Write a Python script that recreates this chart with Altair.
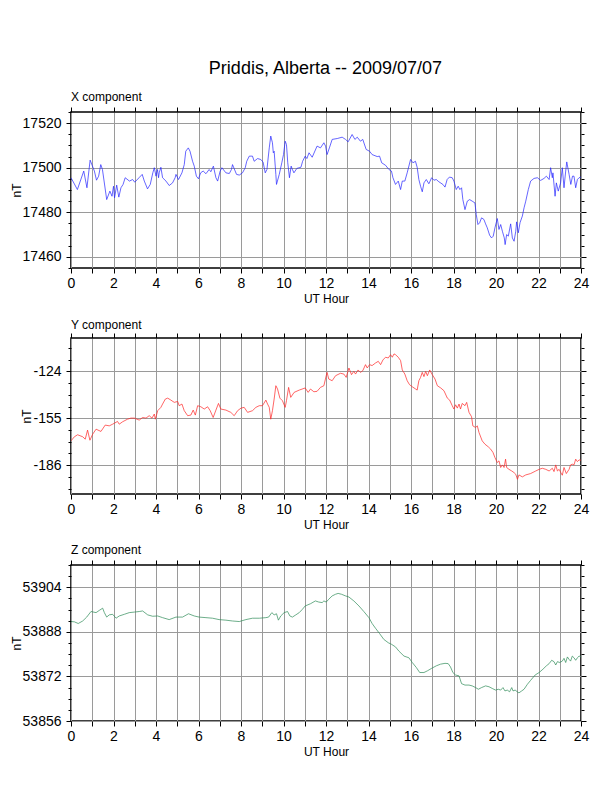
import altair as alt
import pandas as pd

FONT = "Liberation Sans"

# ---------------- data ----------------
X_HOURS = [0.00, 0.30, 0.60, 0.75, 0.90, 1.10, 1.20, 1.30, 1.40, 1.48, 1.68, 1.83, 1.93, 2.00, 2.05, 2.15, 2.25, 2.35, 2.45, 2.55,
           2.75, 2.90, 3.00, 3.20, 3.35, 3.45, 3.60, 3.73, 3.85, 3.92, 4.00, 4.07, 4.12, 4.15, 4.23, 4.31, 4.47, 4.62, 4.78, 4.90,
           4.94, 5.06, 5.22, 5.33, 5.40, 5.52, 5.60, 5.72, 5.80, 5.90, 6.00, 6.10, 6.22, 6.35, 6.50, 6.58, 6.70, 6.82, 6.90, 7.02,
           7.10, 7.29, 7.45, 7.55, 7.60, 7.79, 7.92, 8.07, 8.20, 8.27, 8.39, 8.54, 8.62, 8.78, 8.93, 9.04, 9.14, 9.22, 9.33, 9.40,
           9.48, 9.52, 9.56, 9.64, 9.67, 9.80, 9.92, 10.00, 10.08, 10.14, 10.20, 10.28, 10.36, 10.42, 10.49, 10.63, 10.82, 10.90, 11.02, 11.10,
           11.20, 11.35, 11.58, 11.74, 11.90, 11.98, 12.05, 12.16, 12.29, 12.53, 12.76, 12.92, 13.04, 13.23, 13.36, 13.47, 13.62, 13.73, 13.89, 14.05,
           14.17, 14.41, 14.52, 14.62, 14.80, 14.96, 15.08, 15.15, 15.27, 15.40, 15.51, 15.59, 15.71, 15.82, 15.98, 16.09, 16.21, 16.29, 16.37, 16.45,
           16.53, 16.61, 16.72, 16.84, 16.97, 17.08, 17.19, 17.31, 17.50, 17.60, 17.70, 17.81, 17.94, 18.02, 18.13, 18.22, 18.30, 18.38, 18.44, 18.54,
           18.65, 18.76, 18.88, 19.01, 19.07, 19.15, 19.23, 19.32, 19.43, 19.51, 19.59, 19.70, 19.79, 19.87, 19.95, 20.06, 20.14, 20.22, 20.30, 20.39,
           20.43, 20.50, 20.58, 20.69, 20.77, 20.85, 20.93, 20.97, 21.05, 21.13, 21.24, 21.32, 21.40, 21.52, 21.63, 21.79, 21.95, 22.10, 22.26, 22.37,
           22.50, 22.57, 22.65, 22.68, 22.78, 22.84, 22.93, 23.04, 23.12, 23.20, 23.28, 23.33, 23.44, 23.52, 23.60, 23.67, 23.75, 23.83, 23.91, 24.00]
X_NT = [17495.5, 17490.2, 17498.5, 17491.0, 17503.4, 17498.5, 17494.4, 17496.2, 17501.4, 17499.2, 17485.7, 17489.5, 17487.2, 17491.7, 17486.5, 17492.2, 17486.8, 17491.0, 17492.5, 17495.5,
        17494.0, 17494.7, 17493.5, 17495.5, 17497.0, 17494.0, 17490.5, 17492.5, 17497.7, 17500.0, 17496.2, 17499.2, 17495.5, 17497.7, 17500.2, 17495.5, 17494.0, 17492.0, 17493.2, 17495.5,
        17497.0, 17494.7, 17497.7, 17501.4, 17507.4, 17508.9, 17507.4, 17502.9, 17500.7, 17496.2, 17495.0, 17497.7, 17498.5, 17497.3, 17499.2, 17498.2, 17500.7, 17495.5, 17494.0, 17498.5,
        17500.0, 17497.7, 17497.4, 17499.2, 17501.4, 17497.0, 17496.7, 17497.7, 17500.0, 17502.9, 17505.2, 17505.2, 17502.9, 17504.1, 17503.7, 17502.5, 17497.7, 17499.2, 17508.9, 17514.2,
        17511.2, 17506.7, 17507.4, 17497.0, 17492.5, 17497.0, 17502.2, 17505.9, 17511.9, 17510.4, 17502.2, 17495.5, 17500.7, 17499.2, 17497.7, 17499.7, 17500.2, 17502.9, 17505.2, 17504.1,
        17506.7, 17504.7, 17509.7, 17508.9, 17511.2, 17509.7, 17505.9, 17508.9, 17512.7, 17513.1, 17513.7, 17512.7, 17511.6, 17514.9, 17512.7, 17513.7, 17511.9, 17512.7, 17508.2, 17507.4,
        17505.9, 17505.0, 17505.2, 17502.2, 17501.1, 17499.2, 17498.5, 17495.5, 17492.5, 17494.0, 17490.2, 17494.0, 17494.0, 17497.7, 17503.7, 17502.2, 17502.9, 17500.2, 17494.7, 17491.7,
        17489.2, 17493.2, 17494.7, 17492.8, 17495.5, 17494.4, 17494.7, 17493.7, 17492.5, 17491.3, 17494.7, 17495.8, 17495.5, 17494.0, 17490.2, 17491.7, 17490.2, 17491.0, 17485.7, 17481.2,
        17485.0, 17485.7, 17485.0, 17484.2, 17479.0, 17474.5, 17475.3, 17477.5, 17476.8, 17474.8, 17473.0, 17469.7, 17468.5, 17469.3, 17473.0, 17477.2, 17472.3, 17474.5, 17471.5, 17468.5,
        17465.5, 17470.0, 17469.3, 17474.8, 17468.5, 17467.0, 17471.5, 17475.7, 17470.8, 17475.3, 17478.3, 17482.0, 17485.0, 17490.2, 17494.0, 17495.2, 17495.5, 17494.3, 17495.2, 17496.2,
        17494.7, 17500.0, 17495.5, 17497.7, 17487.2, 17493.2, 17489.5, 17493.2, 17500.0, 17491.0, 17498.5, 17502.6, 17497.0, 17492.5, 17496.2, 17496.2, 17491.0, 17494.7, 17495.5, 17495.8]

Y_HOURS = [0.00, 0.16, 0.31, 0.55, 0.67, 0.78, 0.89, 1.02, 1.18, 1.41, 1.61, 1.80, 1.96, 2.19, 2.27, 2.43, 2.66, 2.82, 2.98, 3.21,
           3.37, 3.53, 3.68, 3.81, 3.92, 3.97, 4.08, 4.23, 4.31, 4.44, 4.55, 4.70, 4.86, 5.02, 5.09, 5.22, 5.33, 5.49, 5.64, 5.75,
           5.85, 5.96, 6.11, 6.27, 6.43, 6.55, 6.69, 6.82, 6.94, 7.05, 7.29, 7.52, 7.68, 7.84, 8.00, 8.15, 8.31, 8.54, 8.70, 8.86,
           9.01, 9.17, 9.25, 9.33, 9.40, 9.48, 9.56, 9.64, 9.72, 9.83, 9.95, 10.08, 10.14, 10.24, 10.34, 10.50, 10.74, 11.02, 11.16, 11.27,
           11.43, 11.58, 11.74, 11.90, 12.01, 12.05, 12.13, 12.29, 12.45, 12.68, 12.84, 12.95, 13.08, 13.20, 13.31, 13.39, 13.51, 13.62, 13.73, 13.86,
           13.94, 14.05, 14.17, 14.33, 14.46, 14.57, 14.68, 14.80, 14.93, 15.04, 15.12, 15.20, 15.27, 15.40, 15.51, 15.59, 15.71, 15.82, 15.93, 16.06,
           16.22, 16.29, 16.37, 16.45, 16.53, 16.61, 16.69, 16.77, 16.88, 17.00, 17.13, 17.24, 17.40, 17.55, 17.71, 17.82, 17.94, 18.02, 18.10, 18.18,
           18.26, 18.33, 18.41, 18.54, 18.62, 18.73, 18.85, 18.91, 19.04, 19.12, 19.20, 19.35, 19.48, 19.64, 19.75, 19.86, 19.95, 20.06, 20.14, 20.22,
           20.30, 20.38, 20.45, 20.50, 20.61, 20.74, 20.85, 20.93, 21.01, 21.08, 21.24, 21.40, 21.63, 21.87, 22.03, 22.18, 22.34, 22.50, 22.65, 22.73,
           22.81, 22.89, 22.97, 23.05, 23.12, 23.20, 23.31, 23.44, 23.51, 23.59, 23.67, 23.75, 23.83, 23.91, 24.00]
Y_NT = [-169.9, -167.2, -165.9, -167.2, -168.8, -162.8, -169.5, -165.5, -162.2, -163.7, -159.5, -160.0, -158.9, -157.1, -158.9, -157.3, -155.6, -154.9, -154.9, -156.2,
        -154.5, -154.9, -153.3, -154.9, -152.2, -155.6, -150.0, -147.8, -145.6, -142.3, -141.7, -143.0, -144.5, -143.9, -146.7, -145.6, -150.0, -153.3, -152.9, -149.6,
        -152.9, -146.7, -147.4, -148.9, -147.4, -150.0, -154.5, -149.6, -145.2, -148.9, -149.6, -151.1, -153.3, -150.0, -148.3, -147.8, -151.1, -150.0, -147.8, -146.7,
        -146.7, -143.0, -145.6, -147.8, -155.6, -150.0, -142.3, -133.5, -135.7, -141.7, -143.4, -147.8, -143.4, -134.6, -141.2, -137.9, -136.4, -135.0, -137.9, -135.7,
        -137.5, -137.2, -134.6, -133.5, -126.9, -124.7, -129.1, -130.2, -126.9, -125.3, -125.8, -128.0, -121.8, -126.2, -124.0, -125.8, -123.1, -124.7, -123.6, -119.6,
        -121.8, -119.6, -120.2, -118.5, -117.4, -119.6, -116.5, -114.7, -115.2, -113.0, -114.7, -112.5, -113.0, -114.7, -116.9, -123.1, -125.8, -130.2, -132.8, -134.2,
        -135.7, -136.4, -130.2, -128.0, -124.7, -127.5, -124.0, -126.9, -123.1, -126.2, -129.1, -133.5, -135.0, -136.8, -141.7, -143.0, -146.7, -148.9, -146.1, -148.3,
        -145.6, -148.9, -145.2, -146.7, -144.5, -151.1, -154.0, -160.0, -161.1, -160.0, -164.4, -169.9, -172.1, -173.9, -175.4, -177.6, -180.9, -184.2, -183.1, -187.5,
        -185.8, -187.5, -182.0, -187.5, -188.7, -189.8, -190.9, -192.0, -195.3, -192.4, -193.7, -192.4, -191.5, -189.8, -188.7, -188.0, -188.7, -189.8, -188.0, -190.2,
        -185.8, -189.8, -188.7, -190.9, -192.6, -187.5, -191.5, -188.7, -185.8, -185.3, -185.8, -182.0, -183.6, -182.5, -182.7]

Z_HOURS = [0.00, 0.16, 0.34, 0.55, 0.74, 0.94, 1.18, 1.33, 1.49, 1.57, 1.68, 1.80, 1.96, 2.12, 2.27, 2.51, 2.74, 2.98, 3.21, 3.37,
           3.61, 3.84, 4.08, 4.31, 4.62, 4.94, 5.25, 5.53, 5.80, 6.03, 6.35, 6.66, 6.97, 7.29, 7.60, 7.92, 8.23, 8.54, 8.86, 9.17,
           9.30, 9.45, 9.56, 9.67, 9.76, 9.87, 10.03, 10.19, 10.30, 10.42, 10.58, 10.74, 10.89, 11.02, 11.27, 11.50, 11.66, 11.82, 11.90, 12.01,
           12.13, 12.29, 12.45, 12.57, 12.73, 12.92, 13.08, 13.31, 13.55, 13.78, 14.02, 14.17, 14.33, 14.52, 14.72, 14.93, 15.09, 15.27, 15.43, 15.67,
           15.90, 16.06, 16.25, 16.41, 16.61, 16.77, 16.97, 17.19, 17.39, 17.60, 17.75, 17.86, 17.97, 18.10, 18.26, 18.38, 18.54, 18.73, 18.88, 19.04,
           19.17, 19.32, 19.51, 19.67, 19.82, 19.98, 20.11, 20.22, 20.33, 20.42, 20.53, 20.64, 20.74, 20.80, 20.90, 21.00, 21.08, 21.21, 21.32, 21.48,
           21.63, 21.84, 22.03, 22.21, 22.37, 22.50, 22.62, 22.73, 22.81, 22.89, 23.00, 23.12, 23.20, 23.28, 23.36, 23.44, 23.51, 23.59, 23.67, 23.75,
           23.83, 23.91, 24.00]
Z_NT = [53891.7, 53891.6, 53891.0, 53891.9, 53893.3, 53895.3, 53894.9, 53895.7, 53896.5, 53894.9, 53893.3, 53894.1, 53894.3, 53892.9, 53893.7, 53894.3, 53894.9, 53895.1, 53895.3, 53895.5,
        53894.1, 53893.6, 53893.7, 53893.1, 53892.4, 53893.3, 53893.3, 53894.5, 53893.7, 53893.3, 53893.1, 53892.9, 53892.4, 53892.2, 53891.9, 53891.7, 53892.4, 53892.9, 53892.9, 53893.1,
        53893.3, 53894.9, 53894.1, 53894.5, 53892.2, 53893.7, 53894.9, 53895.3, 53893.7, 53893.3, 53894.1, 53894.9, 53896.1, 53897.3, 53898.1, 53899.1, 53898.7, 53898.5, 53899.1, 53898.7,
        53899.7, 53900.9, 53901.5, 53901.8, 53901.5, 53900.9, 53900.5, 53899.1, 53897.3, 53895.3, 53893.1, 53891.0, 53889.3, 53887.4, 53885.3, 53884.1, 53883.5, 53882.6, 53881.1, 53879.3,
        53878.7, 53877.0, 53875.2, 53873.4, 53873.4, 53874.0, 53874.9, 53875.8, 53876.4, 53876.7, 53876.6, 53875.4, 53873.4, 53872.5, 53872.2, 53869.4, 53868.9, 53868.9, 53868.6, 53868.0,
        53867.4, 53868.0, 53868.6, 53868.3, 53867.7, 53867.1, 53867.4, 53867.1, 53868.0, 53866.8, 53867.1, 53866.5, 53868.0, 53866.8, 53867.1, 53866.5, 53866.1, 53866.8, 53867.4, 53869.2,
        53870.6, 53872.5, 53873.4, 53874.6, 53875.8, 53876.6, 53877.8, 53877.3, 53876.1, 53877.3, 53877.0, 53877.5, 53878.5, 53877.0, 53879.0, 53878.1, 53877.5, 53879.3, 53878.7, 53877.8,
        53878.7, 53879.3, 53879.0]

# ---------------- axis tick values ----------------
HOUR_TICKS = [0, 1, 2, 3, 4, 5, 6, 7, 8, 9, 10, 11, 12, 13, 14, 15, 16, 17, 18, 19, 20, 21, 22, 23, 24]
HOUR_LABELS = [0, 2, 4, 6, 8, 10, 12, 14, 16, 18, 20, 22, 24]

X_DOMAIN = [17455, 17525]
X_MAJOR = [17460, 17480, 17500, 17520]
X_MINOR = [17455, 17460, 17465, 17470, 17475, 17480, 17485, 17490, 17495, 17500, 17505, 17510, 17515, 17520, 17525]

Y_DOMAIN = [-205, -102]
Y_MAJOR = [-124, -155, -186]
Y_MINOR = [-201.5, -193.75, -186, -178.25, -170.5, -162.75, -155, -147.25, -139.5, -131.75, -124, -116.25, -108.5]

Z_DOMAIN = [53856, 53912]
Z_MAJOR = [53856, 53872, 53888, 53904]
Z_MINOR = [53856, 53860, 53864, 53868, 53872, 53876, 53880, 53884, 53888, 53892, 53896, 53900, 53904, 53908, 53912]


def panel(hours, vals, color, title, domain, majors, minors):
    df = pd.DataFrame({"hour": hours, "nT": vals})
    is_major = f"indexof({majors}, datum.value) >= 0"
    hour_lab = f"indexof({HOUR_LABELS}, datum.value) >= 0 ? datum.label : ''"
    xscale = alt.Scale(domain=[0, 24], nice=False, zero=False)
    yscale = alt.Scale(domain=domain, nice=False, zero=False)
    tick_sz = {"condition": {"test": is_major, "value": 5}, "value": 3}

    main = alt.Chart(df).mark_line(color=color, strokeWidth=0.7, clip=True).encode(
        x=alt.X("hour:Q", scale=xscale, title="UT Hour",
                axis=alt.Axis(orient="bottom", values=HOUR_TICKS, labelExpr=hour_lab,
                              grid=True, tickSize=5, labelPadding=3, titlePadding=3,
                              labelFlush=False, labelOverlap=False)),
        y=alt.Y("nT:Q", scale=yscale, title="nT",
                axis=alt.Axis(orient="left", values=minors,
                              labelExpr=f"{is_major} ? (datum.value + '') : ''",
                              grid=True,
                              gridOpacity={"condition": {"test": is_major, "value": 1}, "value": 0},
                              tickSize=tick_sz, labelPadding=5, titlePadding=-1,
                              labelOverlap=False)),
    )
    frame = alt.Chart(df).mark_line(strokeOpacity=0).encode(
        x=alt.X("hour:Q", scale=xscale, title=None,
                axis=alt.Axis(orient="top", values=HOUR_TICKS, labels=False, grid=False, tickSize=5)),
        y=alt.Y("nT:Q", scale=yscale, title=None,
                axis=alt.Axis(orient="right", values=minors, labels=False, grid=False, tickSize=tick_sz)),
    )
    return alt.layer(main, frame).resolve_axis(x="independent", y="independent").properties(
        width=510, height=156,
        title=alt.TitleParams(title, anchor="start", frame="group", fontSize=12, offset=1, font=FONT,
                              fontWeight="normal", color="black"),
    )


p1 = panel(X_HOURS, X_NT, "#2424ff", "X component", X_DOMAIN, X_MAJOR, X_MINOR)
p2 = panel(Y_HOURS, Y_NT, "#ff2424", "Y component", Y_DOMAIN, Y_MAJOR, Y_MINOR)
p3 = panel(Z_HOURS, Z_NT, "#2e8b57", "Z component", Z_DOMAIN, Z_MAJOR, Z_MINOR)

chart = alt.vconcat(p1, p2, p3, spacing=12).properties(
    title=alt.TitleParams("Priddis, Alberta -- 2009/07/07", fontSize=18, font=FONT,
                          fontWeight="normal", color="black", anchor="middle", offset=12, dx=26),
    padding={"left": 1, "top": 52, "right": 5, "bottom": 5},
).configure_view(
    stroke="black", strokeWidth=1.6
).configure_axis(
    labelFont=FONT, titleFont=FONT, labelFontSize=14, titleFontSize=12,
    labelColor="black", titleColor="black", titleFontWeight="normal",
    tickColor="black", tickWidth=1, gridColor="#9a9a9a", gridWidth=1, domain=False,
)

chart.save("out.html", embed_options={"renderer": "svg", "actions": False})
